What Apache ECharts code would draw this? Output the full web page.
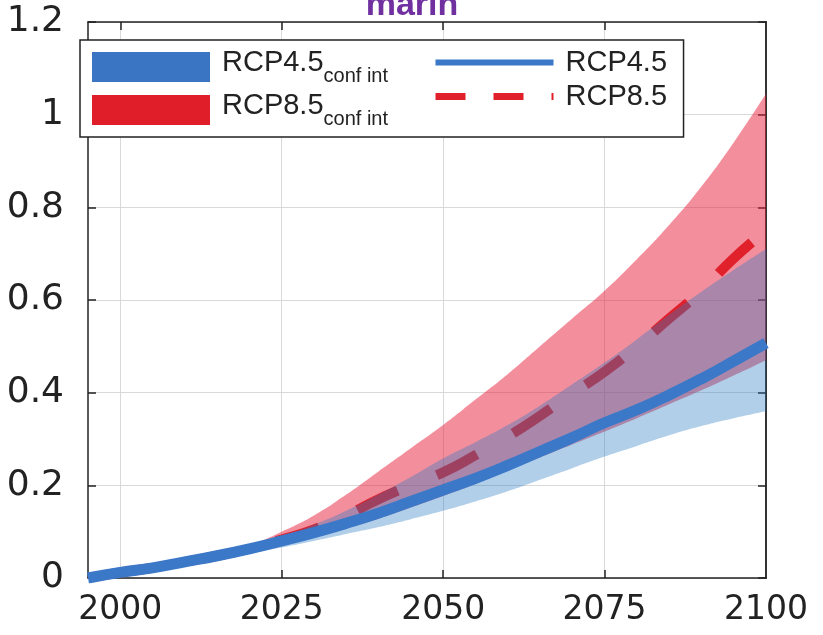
<!DOCTYPE html>
<html>
<head>
<meta charset="utf-8">
<script src="https://cdn.jsdelivr.net/npm/echarts@6/dist/echarts.min.js"></script>
<style>html,body{margin:0;padding:0;background:#fff}#c{width:823px;height:635px}</style>
</head>
<body>
<div id="c"></div>
<script>
// ---- data ----
const years      = [1995, 2000, 2005, 2010, 2015, 2020, 2025, 2030, 2035, 2040, 2045, 2050, 2055, 2060, 2065, 2070, 2075, 2080, 2085, 2090, 2095, 2100];
const rcp45Mean  = [0, 0.012, 0.022, 0.035, 0.048, 0.063, 0.080, 0.098, 0.118, 0.140, 0.165, 0.190, 0.215, 0.243, 0.273, 0.303, 0.335, 0.363, 0.395, 0.430, 0.468, 0.507];
const rcp45Low   = [0, 0.010, 0.020, 0.030, 0.041, 0.053, 0.066, 0.080, 0.095, 0.110, 0.127, 0.145, 0.165, 0.187, 0.212, 0.237, 0.262, 0.285, 0.308, 0.328, 0.345, 0.360];
const rcp45High  = [0, 0.012, 0.023, 0.036, 0.050, 0.068, 0.090, 0.115, 0.145, 0.180, 0.218, 0.258, 0.293, 0.330, 0.372, 0.418, 0.465, 0.515, 0.568, 0.618, 0.665, 0.710];
const rcp85Mean  = [0, 0.012, 0.022, 0.035, 0.048, 0.064, 0.083, 0.105, 0.135, 0.170, 0.200, 0.228, 0.265, 0.305, 0.350, 0.398, 0.445, 0.500, 0.560, 0.620, 0.690, 0.750];
const rcp85Low   = [0, 0.010, 0.020, 0.032, 0.043, 0.056, 0.072, 0.088, 0.107, 0.128, 0.152, 0.177, 0.203, 0.232, 0.260, 0.288, 0.316, 0.345, 0.375, 0.405, 0.437, 0.470];
const rcp85High  = [0, 0.012, 0.023, 0.036, 0.050, 0.070, 0.100, 0.135, 0.180, 0.230, 0.280, 0.330, 0.385, 0.440, 0.500, 0.560, 0.620, 0.688, 0.762, 0.845, 0.940, 1.045];
const xTickLabels = [2000, 2025, 2050, 2075, 2100];
const xGridYears  = [2000, 2025, 2050, 2075];
const yTicks      = [0, 0.2, 0.4, 0.6, 0.8, 1, 1.2];
const titleText   = 'marin';

// ---- build ----
const cats = years.map(String);
const bandWidth = (hi, lo) => hi.map((v, i) => +(v - lo[i]).toFixed(4));
const showLabel = (i, v) => xTickLabels.indexOf(+v) >= 0;
const showGrid  = (i, v) => xGridYears.indexOf(+v) >= 0;

const LF = 'Liberation Sans, Arial, sans-serif';
const AF = 'DejaVu Sans, sans-serif';

const chart = echarts.init(document.getElementById('c'), null, {renderer: 'canvas'});

const option = {
  backgroundColor: '#ffffff',
  animation: false,
  title: {
    text: titleText, left: 407, top: -16, textAlign: 'center',
    textStyle: {color: '#7030a0', fontSize: 34, fontWeight: 'bold', fontFamily: LF}
  },
  grid: {left: 88, right: 57, top: 22, bottom: 57, containLabel: false},
  xAxis: [{
    type: 'category', data: cats, boundaryGap: false,
    axisLine: {show: true, onZero: false, lineStyle: {color: '#222', width: 1.5}},
    axisTick: {show: true, inside: true, length: 8, interval: showGrid, lineStyle: {color: '#222', width: 1.5}},
    axisLabel: {show: true, interval: showLabel, margin: 16, color: '#222', fontSize: 33, fontFamily: AF},
    splitLine: {show: true, interval: showGrid, lineStyle: {color: '#d9d9d9', width: 1}}
  }, {
    type: 'category', data: cats, boundaryGap: false, position: 'top',
    axisLine: {show: true, onZero: false, lineStyle: {color: '#222', width: 1.5}},
    axisTick: {show: true, inside: true, length: 8, interval: showGrid, lineStyle: {color: '#222', width: 1.5}},
    axisLabel: {show: false},
    splitLine: {show: false}
  }],
  yAxis: [{
    type: 'value', min: yTicks[0], max: yTicks[yTicks.length - 1], interval: 0.2,
    axisLine: {show: true, onZero: false, lineStyle: {color: '#222', width: 1.5}},
    axisTick: {show: true, inside: true, length: 8, lineStyle: {color: '#222', width: 1.5}},
    axisLabel: {margin: 24, color: '#222', fontSize: 36, fontFamily: AF},
    splitLine: {show: true, lineStyle: {color: '#d9d9d9', width: 1}}
  }, {
    type: 'value', position: 'right', min: yTicks[0], max: yTicks[yTicks.length - 1], interval: 0.2,
    axisLine: {show: true, onZero: false, lineStyle: {color: '#333', width: 2}},
    axisTick: {show: true, inside: true, length: 8, lineStyle: {color: '#222', width: 1.5}},
    axisLabel: {show: false},
    splitLine: {show: false}
  }],
  legend: [{
    left: 80, top: 40, orient: 'vertical', padding: [8, 270, 8, 12], itemGap: 5,
    itemWidth: 118, itemHeight: 30, selectedMode: false, z: 10,
    borderColor: '#222', borderWidth: 1.5, backgroundColor: '#ffffff',
    data: [
      {name: 'RCP4.5 conf int', icon: 'rect', itemStyle: {color: '#3a75c4', borderWidth: 0}},
      {name: 'RCP8.5 conf int', icon: 'rect', itemStyle: {color: '#e01e2a', borderWidth: 0}}
    ],
    formatter: n => '{m|' + n.split(' ')[0] + '}{s|' + n.split(' ').slice(1).join(' ') + '}',
    textStyle: {
      rich: {
        m: {fontSize: 29, fontFamily: LF, color: '#222', verticalAlign: 'top', lineHeight: 38, padding: [0, 0, 0, 7]},
        s: {fontSize: 20, fontFamily: LF, color: '#222', verticalAlign: 'bottom', lineHeight: 38, width: 90}
      }
    }
  }, {
    left: 432, top: 48, orient: 'vertical', padding: 0, itemGap: 5,
    itemWidth: 118, itemHeight: 30, selectedMode: false, z: 11,
    data: [
      {name: 'RCP4.5', itemStyle: {opacity: 0}, lineStyle: {width: 6, type: 'solid', color: '#3b78c8'}},
      {name: 'RCP8.5', itemStyle: {opacity: 0}, lineStyle: {width: 7, type: [30, 28], dashOffset: 0, color: '#e0202a'}}
    ],
    formatter: n => '{p|' + n + '}',
    textStyle: {
      rich: {p: {fontSize: 29, fontFamily: LF, color: '#222', lineHeight: 38, padding: [0, 0, 0, 7]}}
    }
  }],
  series: [
    {
      name: 'RCP8.5 low', type: 'line', stack: 'r85', data: rcp85Low, smooth: true, z: 2,
      symbol: 'none', silent: true, lineStyle: {opacity: 0, width: 0}
    },
    {
      name: 'RCP8.5 conf int', type: 'line', stack: 'r85', data: bandWidth(rcp85High, rcp85Low), smooth: true, z: 2,
      symbol: 'none', silent: true, color: '#e01e2a',
      lineStyle: {opacity: 0, width: 0},
      areaStyle: {color: 'rgba(232,30,59,0.5)', opacity: 1}
    },
    {
      name: 'RCP8.5', type: 'line', data: rcp85Mean, smooth: true, symbol: 'none', silent: true, z: 2,
      color: '#e0202a',
      lineStyle: {color: '#e0202a', width: 10, type: [45, 42], cap: 'butt', dashOffset: 69}
    },
    {
      name: 'RCP4.5 low', type: 'line', stack: 'r45', data: rcp45Low, smooth: true, z: 3,
      symbol: 'none', silent: true, lineStyle: {opacity: 0, width: 0}
    },
    {
      name: 'RCP4.5 conf int', type: 'line', stack: 'r45', data: bandWidth(rcp45High, rcp45Low), smooth: true, z: 3,
      symbol: 'none', silent: true, color: '#3a75c4',
      lineStyle: {opacity: 0, width: 0},
      areaStyle: {color: 'rgba(41,121,195,0.36)', opacity: 1}
    },
    {
      name: 'RCP4.5', type: 'line', data: rcp45Mean, smooth: true, symbol: 'none', silent: true, z: 4,
      color: '#3b78c8',
      lineStyle: {color: '#3b78c8', width: 11}
    }
  ]
};
chart.setOption(option);
</script>
</body>
</html>
